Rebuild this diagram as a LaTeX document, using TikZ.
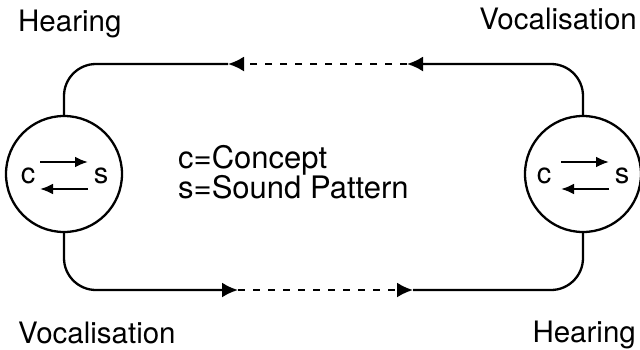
\documentclass[tikz,border=0pt]{standalone}
\usepackage{fontspec}
\setmainfont{TeX Gyre Heros}
\usetikzlibrary{arrows.meta}
\tikzset{
  lbl/.style={anchor=base west, inner sep=0pt, font=\fontsize{29.5}{30}\selectfont},
  mind/.style={circle, draw, line width=2.3pt, minimum size=116pt, inner sep=0pt},
  letter/.style={anchor=base, inner sep=0pt, font=\fontsize{29}{30}\selectfont},
  flow/.style={line width=2.3pt, rounded corners=32pt},
  gap/.style={line width=2.3pt, dash pattern=on 7pt off 8pt},
  bigtip/.style={-{Latex[length=16pt,width=15pt]}},
  smalltip/.style={line width=2.3pt, -{Latex[length=13pt,width=11pt]}}
}
\begin{document}
\begin{tikzpicture}[x=1pt,y=-1pt]
\useasboundingbox (0,0) rectangle (640,349);
\node[mind] (L) at (64,174) {};
\node[mind] (R) at (583,174) {};
% letters and inner arrows, left
\node[letter] (Lc) at (28,183) {c};
\node[letter] (Ls) at (101,183) {s};
\coordinate (Lu1) at (40,162); \coordinate (Lu2) at (88,162);
\coordinate (Ld1) at (88,189); \coordinate (Ld2) at (40,189);
\draw[smalltip] (Lu1) -- (Lu2);
\draw[smalltip] (Ld1) -- (Ld2);
% letters and inner arrows, right
\node[letter] (Rc) at (544,183) {c};
\node[letter] (Rs) at (622,183) {s};
\coordinate (Ru1) at (561,162); \coordinate (Ru2) at (609,162);
\coordinate (Rd1) at (609,189); \coordinate (Rd2) at (561,189);
\draw[smalltip] (Ru1) -- (Ru2);
\draw[smalltip] (Rd1) -- (Rd2);
% top path
\coordinate (a2) at (407,64);
\coordinate (a1) at (228,64);
\draw[flow, bigtip] (R.north) |- (a2);
\draw[gap, bigtip] (a2) -- (a1);
\draw[flow] (a1) -| (L.north);
% bottom path
\coordinate (b1) at (238,290);
\coordinate (b2) at (413,290);
\draw[flow, bigtip] (L.south) |- (b1);
\draw[gap, bigtip] (b1) -- (b2);
\draw[flow] (b2) -| (R.south);
% labels
\node[lbl] (t1) at (18,31) {Hearing};
\node[lbl, anchor=base east] (t2) at (637,29) {Vocalisation};
\node[lbl] (t3) at (18,343) {Vocalisation};
\node[lbl, anchor=base east] (t4) at (636,342) {Hearing};
\node[lbl, font=\fontsize{31}{32}\selectfont] (k1) at (178,168) {c=Concept};
\node[lbl, font=\fontsize{31}{32}\selectfont] (k2) at (178,198) {s=Sound Pattern};
\end{tikzpicture}
\end{document}
